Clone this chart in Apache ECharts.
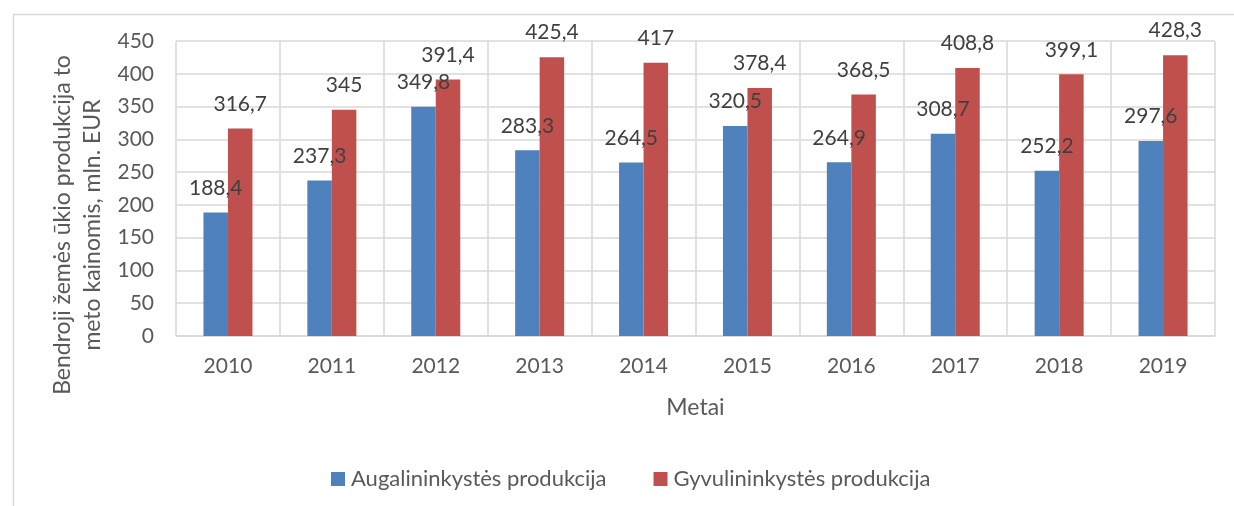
<!DOCTYPE html>
<html>
<head>
<meta charset="utf-8">
<script src="https://cdn.jsdelivr.net/npm/echarts@6/dist/echarts.min.js"></script>
<style>html,body{margin:0;padding:0;background:#fff}#c{width:1234px;height:506px}</style>
</head>
<body>
<div id="c"></div>
<script>
const categories = ['2010','2011','2012','2013','2014','2015','2016','2017','2018','2019'];
const augalininkyste = [188.4, 237.3, 349.8, 283.3, 264.5, 320.5, 264.9, 308.7, 252.2, 297.6];
const gyvulininkyste = [316.7, 345, 391.4, 425.4, 417, 378.4, 368.5, 408.8, 399.1, 428.3];
const seriesNames = ['Augalininkystės produkcija', 'Gyvulininkystės produkcija'];
const yAxisTitle = 'Bendroji žemės ūkio produkcija to\nmeto kainomis, mln. EUR';
const xAxisTitle = 'Metai';

const FONT = 'Lato';
const fmt = v => String(v).replace('.', ',');
const chart = echarts.init(document.getElementById('c'), null, {renderer: 'canvas'});
const labelCfg = {
  show: true, position: 'top', distance: 14,
  fontFamily: FONT, fontSize: 21, lineHeight: 21, color: '#404040',
  formatter: p => fmt(p.value)
};
chart.setOption({
  animation: false,
  backgroundColor: '#fff',
  textStyle: {fontFamily: FONT},
  graphic: [
    {type: 'rect', left: 11, top: 12, shape: {width: 1240, height: 510},
     style: {fill: 'none', stroke: '#d9d9d9', lineWidth: 1.5}, silent: true, z: -1},
    {type: 'text', x: 78, y: 225, rotation: Math.PI / 2,
     style: {text: yAxisTitle, fontFamily: FONT, fontSize: 23, lineHeight: 30,
             fill: '#595959', align: 'center', verticalAlign: 'middle'}}
  ],
  grid: {left: 176, right: 19, top: 41, bottom: 170, containLabel: false},
  legend: {
    left: 331, top: 468, padding: 0, itemWidth: 14, itemHeight: 14, itemGap: 47,
    icon: 'rect',
    textStyle: {fontFamily: FONT, fontSize: 22, color: '#595959', padding: [0, 0, 0, 1]},
    data: seriesNames
  },
  xAxis: {
    type: 'category', data: categories,
    name: xAxisTitle, nameLocation: 'middle', nameGap: 60,
    nameTextStyle: {fontFamily: FONT, fontSize: 23, color: '#595959'},
    axisLine: {show: true, lineStyle: {color: '#d9d9d9', width: 1.5}},
    axisTick: {show: false},
    axisLabel: {fontFamily: FONT, fontSize: 21, color: '#595959', margin: 20},
    splitLine: {show: true, lineStyle: {color: '#d9d9d9', width: 1.5}}
  },
  yAxis: {
    type: 'value', min: 0, max: 450, interval: 50,
    axisLine: {show: false}, axisTick: {show: false},
    axisLabel: {fontFamily: FONT, fontSize: 21, color: '#595959', margin: 22},
    splitLine: {show: true, lineStyle: {color: '#d9d9d9', width: 1.5}}
  },
  series: [
    {name: seriesNames[0], type: 'bar', data: augalininkyste, barWidth: 24.5, barGap: '0%',
     itemStyle: {color: '#4F81BD'}, label: labelCfg},
    {name: seriesNames[1], type: 'bar', data: gyvulininkyste, barWidth: 24.5, barGap: '0%',
     itemStyle: {color: '#C0504D'}, label: labelCfg}
  ]
});
</script>
</body>
</html>
